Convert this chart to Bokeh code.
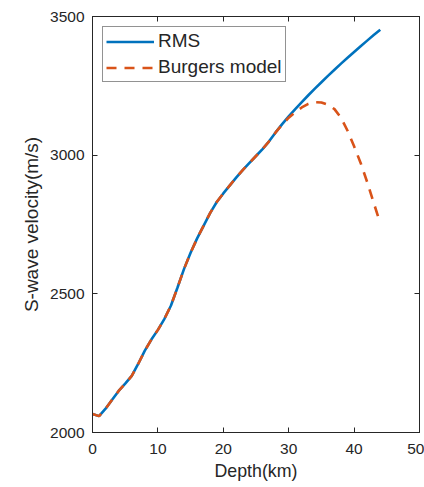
from bokeh.plotting import figure
from bokeh.models import LinearAxis, FixedTicker, Range1d, CustomLabelingPolicy
from bokeh.embed import file_html
from bokeh.resources import INLINE

# Data
depth = [0, 1, 2, 3, 4, 5, 6, 7, 8, 9, 10, 11, 12, 13, 14, 15, 16, 17, 18, 19, 20,
         21, 22, 23, 24, 25, 26, 27, 28, 29, 30, 31, 32, 33, 34, 35, 36, 37, 38,
         39, 40, 41, 42, 43, 44]
rms = [2067, 2059, 2086, 2118, 2150, 2176, 2204, 2248, 2295, 2335, 2370, 2410,
       2458, 2523, 2590, 2648, 2700, 2746, 2792, 2831, 2862, 2891, 2920, 2947,
       2972, 2997, 3022, 3050, 3082, 3112, 3140, 3166, 3191, 3216, 3240, 3263,
       3286, 3308, 3330, 3351, 3372, 3393, 3413, 3433, 3452]
burgers = [2067, 2059, 2086, 2118, 2150, 2176, 2204, 2248, 2295, 2335, 2370, 2410,
           2458, 2523, 2590, 2648, 2700, 2746, 2792, 2831, 2862, 2891, 2920, 2947,
           2972, 2997, 3022, 3050, 3082, 3110, 3135, 3155, 3172, 3185, 3191, 3190,
           3182, 3166, 3135, 3088, 3032, 2972, 2903, 2828, 2755]
x_ticks = [0, 10, 20, 30, 40, 50]
y_ticks = [2000, 2500, 3000, 3500]

FONT = "Liberation Sans"
AX = "#262626"

p = figure(width=424, height=487, output_backend="svg", toolbar_location=None,
           x_range=Range1d(0, 50), y_range=Range1d(2000, 3500),
           min_border_left=92, min_border_right=5, min_border_top=16,
           min_border_bottom=55)

p.xgrid.visible = False
p.ygrid.visible = False
p.outline_line_color = AX
p.outline_line_width = 1

p.line(depth, rms, line_color="#0072BD", line_width=2.6, legend_label="RMS")
p.line(depth, burgers, line_color="#D95319", line_width=2.6, line_dash="10 8",
       legend_label="Burgers model")

def style_axis(ax, ticks):
    ax.ticker = FixedTicker(ticks=ticks)
    ax.axis_line_color = AX
    ax.major_tick_line_color = AX
    ax.major_tick_in = 5
    ax.major_tick_out = 0
    ax.minor_tick_line_color = None
    ax.major_label_text_font = FONT
    ax.major_label_text_color = AX
    ax.axis_label_text_font = FONT
    ax.axis_label_text_color = AX
    ax.axis_label_text_font_style = "normal"

xa = p.xaxis[0]
style_axis(xa, x_ticks)
xa.axis_label = "Depth(km)"
xa.major_label_text_font_size = "15.5px"
xa.major_label_standoff = 11
xa.axis_label_text_font_size = "17.8px"
xa.axis_label_standoff = 4

ya = p.yaxis[0]
style_axis(ya, y_ticks)
ya.axis_label = "S-wave velocity(m/s)"
ya.major_label_text_font_size = "15.5px"
ya.major_label_standoff = 8
ya.axis_label_text_font_size = "19px"
ya.axis_label_standoff = 5

top = LinearAxis()
style_axis(top, x_ticks)
top.major_label_text_font_size = "1px"
top.major_label_standoff = 0
top.major_label_policy = CustomLabelingPolicy(code="return new Set()")
p.add_layout(top, "above")

right = LinearAxis()
style_axis(right, y_ticks)
right.major_label_text_font_size = "1px"
right.major_label_standoff = 0
right.major_label_policy = CustomLabelingPolicy(code="return new Set()")
p.add_layout(right, "right")

lg = p.legend[0]
lg.location = "top_left"
lg.margin = 10
lg.padding = 3
lg.spacing = 4
lg.glyph_width = 48
lg.glyph_height = 21
lg.label_height = 21
lg.label_standoff = 4
lg.label_text_font = FONT
lg.label_text_font_size = "19px"
lg.label_text_color = AX
lg.border_line_color = AX
lg.border_line_width = 1
lg.background_fill_alpha = 1

open("out.html", "w").write(file_html(p, INLINE))
